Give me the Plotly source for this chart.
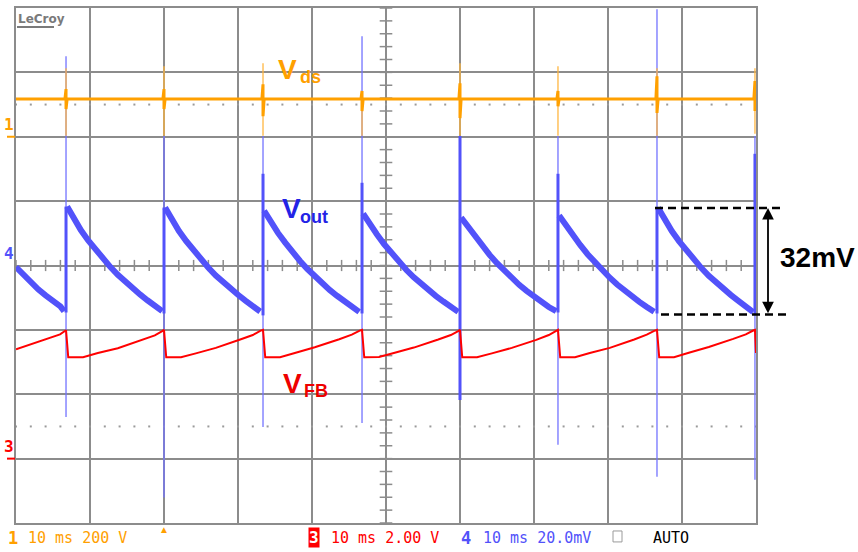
import numpy as np
import plotly.graph_objects as go

# ---------------- data ----------------
# time axis: 10 ms/div, trigger (t=0) on the second switching pulse
pulse_ms = [-13.24, 0.0, 13.38, 26.76, 40.0, 53.24, 66.62, 79.86]

# Channel 4 : Vout (20 mV/div), values in mV relative to screen centre
vout_pre_ms = [-20.0, -19.0, -18.0, -17.0, -16.0, -15.0, -14.0, -13.5]
vout_pre_mV = [-0.5, -3.0, -5.3, -7.4, -9.3, -11.0, -12.7, -14.2]
vout_cycle_offset_ms = [0.15, 1, 2, 3, 4, 5, 6, 7, 8, 9, 10, 11, 12, 13.0]
vout_cycle_mV = [
    [18.3, 14.5, 11.0, 7.8, 4.8, 2.0, -0.5, -2.9, -5.1, -7.2, -9.0, -10.8, -12.5, -14.2],
    [18.0, 14.3, 10.8, 7.6, 4.6, 1.8, -0.7, -3.1, -5.3, -7.3, -9.1, -10.9, -12.6, -14.3],
    [17.0, 13.6, 10.2, 7.1, 4.1, 1.4, -1.1, -3.4, -5.6, -7.6, -9.4, -11.1, -12.8, -14.4],
    [16.1, 13.0, 9.7, 6.6, 3.7, 1.0, -1.4, -3.7, -5.8, -7.7, -9.5, -11.2, -12.9, -14.4],
    [14.9, 12.3, 9.1, 6.1, 3.3, 0.7, -1.7, -3.9, -6.0, -7.9, -9.7, -11.3, -12.9, -14.2],
    [15.5, 12.6, 9.4, 6.4, 3.5, 0.9, -1.5, -3.8, -5.9, -7.8, -9.6, -11.3, -12.9, -14.4],
    [17.9, 14.2, 10.7, 7.5, 4.5, 1.7, -0.8, -3.2, -5.4, -7.4, -9.2, -11.0, -12.7, -14.5],
]
vout_heavy_lo_mV = [-14.6, -14.9, -15.5, -14.9, -41.8, -14.6, -14.9, -15.2]
vout_heavy_hi_mV = [18.3, 18.0, 28.5, 25.7, 40.2, 28.5, 17.9, 34.7]
vout_spike_hi_mV = [65.0, 40.2, 40.2, 71.2, 40.2, 40.2, 79.6, 40.2]
vout_spike_lo_mV = [-47.1, -72.1, -50.2, -48.9, -41.8, -55.7, -65.6, -66.6]

# Channel 1 : Vds (200 V/div), ground 2 div above centre
vds_base_V = 117
vds_thin_hi_V = [213, 219, 228, 142, 228, 219, 213, 213]
vds_thin_lo_V = [3, 3, 3, 3, 3, 3, 3, 9]
vds_thick_hi_V = [148, 148, 163, 142, 166, 142, 188, 173]
vds_thick_lo_V = [86, 86, 64, 80, 58, 95, 74, 80]

# Channel 3 : VFB (2 V/div), ground 3 div below centre
vfb_pre_ms = [-20.0, -16.76, -14.05]
vfb_pre_V = [3.40, 3.65, 3.86]
vfb_peak_V = [3.99, 4.00, 4.00, 4.00, 4.00, 4.00, 4.00, 4.00]
vfb_cycle_offset_ms = [0.3, 2.3, 4.3, 7.0, 10.3, 12.0, 13.0]
vfb_cycle_V = [
    [3.15, 3.15, 3.28, 3.43, 3.68, 3.83, 3.96],
    [3.15, 3.15, 3.27, 3.44, 3.70, 3.84, 3.97],
    [3.15, 3.15, 3.28, 3.46, 3.71, 3.85, 3.97],
    [3.15, 3.16, 3.28, 3.45, 3.70, 3.84, 3.96],
    [3.15, 3.15, 3.27, 3.44, 3.69, 3.84, 3.97],
    [3.15, 3.15, 3.28, 3.44, 3.70, 3.85, 3.97],
    [3.15, 3.15, 3.29, 3.47, 3.72, 3.86, 3.98],
]
vfb_end_ms, vfb_end_V = [80.0], [3.28]

# cursor measurement
measure_mV = [17.9, -15.2]
measure_label = "32mV"

status_texts = ["10 ms 200 V", "10 ms 2.00 V", "10 ms 20.0mV", "AUTO"]

# ---------------- scales ----------------
X_RANGE = [-20, 80]
Y_VOUT = [-80, 80]
Y_VDS = [-1200, 400]
Y_VFB = [-2, 14]

W, H = 858, 552
ML, MR, MT, MB = 16, 102, 6, 29
PW, PH = W - ML - MR, H - MT - MB

ORANGE = "#FFA000"
BLUE = "#5252FA"
RED = "#FF0000"
GRID = "#8c8c8c"


def px2x(px):
    return (px - ML) / PW


def px2y(py):
    return (H - MB - py) / PH


def yfrac(v, rng):
    return (v - rng[0]) / (rng[1] - rng[0])


# ---------------- build traces ----------------
# sawtooth band (noisy part), broken at each pulse
vt, vv = list(vout_pre_ms) + [None], list(vout_pre_mV) + [None]
for i, p in enumerate(pulse_ms[:len(vout_cycle_mV)]):
    vt += [p + o for o in vout_cycle_offset_ms] + [None]
    vv += vout_cycle_mV[i] + [None]

# heavy vertical part at each pulse
ht, hv = [], []
for i, p in enumerate(pulse_ms):
    ht += [p, p, None]
    hv += [vout_heavy_lo_mV[i], vout_heavy_hi_mV[i], None]

# thin ringing spikes
st, sv = [], []
for i, p in enumerate(pulse_ms):
    st += [p, p, None]
    sv += [vout_spike_hi_mV[i], vout_spike_lo_mV[i], None]

dt, dv = [X_RANGE[0]], [vds_base_V]
for i, p in enumerate(pulse_ms):
    dt += [p - 0.15, p, p, p + 0.15]
    dv += [vds_base_V, vds_thick_hi_V[i], vds_thick_lo_V[i], vds_base_V]
dt.append(X_RANGE[1])
dv.append(vds_base_V)

dst, dsv = [], []
for i, p in enumerate(pulse_ms):
    dst += [p, p, None]
    dsv += [vds_thin_hi_V[i], vds_thin_lo_V[i], None]

ft, fv = list(vfb_pre_ms), list(vfb_pre_V)
for i, p in enumerate(pulse_ms):
    ft.append(p)
    fv.append(vfb_peak_V[i])
    if i < len(vfb_cycle_V):
        ft += [p + o for o in vfb_cycle_offset_ms]
        fv += vfb_cycle_V[i]
ft += vfb_end_ms
fv += vfb_end_V

fig = go.Figure()

# graticule decorations
minor_x = np.arange(X_RANGE[0], X_RANGE[1] + 0.01, 2)
minor_y = np.arange(Y_VOUT[0], Y_VOUT[1] + 0.01, 4)
for yy in (50, -50):
    fig.add_trace(go.Scatter(x=minor_x, y=[yy] * len(minor_x), mode="markers",
                             marker=dict(symbol="square", size=2, color="#9a9a9a"),
                             hoverinfo="skip"))
fig.add_trace(go.Scatter(x=minor_x, y=[0] * len(minor_x), mode="markers",
                         marker=dict(symbol="line-ns", size=8, line=dict(width=1.5, color=GRID)),
                         hoverinfo="skip"))
fig.add_trace(go.Scatter(x=[30] * len(minor_y), y=minor_y, mode="markers",
                         marker=dict(symbol="line-ew", size=9, line=dict(width=1.5, color=GRID)),
                         hoverinfo="skip"))

# channel traces
fig.add_trace(go.Scatter(x=st, y=sv, mode="lines", line=dict(color="#7373ff", width=1.3),
                         hoverinfo="skip"))
fig.add_trace(go.Scatter(x=ht, y=hv, mode="lines", line=dict(color=BLUE, width=3),
                         hoverinfo="skip"))
fig.add_trace(go.Scatter(x=vt, y=vv, mode="lines", line=dict(color=BLUE, width=6),
                         connectgaps=False, hoverinfo="skip"))
fig.add_trace(go.Scatter(x=ft, y=fv, mode="lines", line=dict(color=RED, width=2),
                         yaxis="y3", hoverinfo="skip"))
fig.add_trace(go.Scatter(x=dst, y=dsv, mode="lines", line=dict(color="#FFB640", width=1.3),
                         yaxis="y2", hoverinfo="skip"))
fig.add_trace(go.Scatter(x=dt, y=dv, mode="lines", line=dict(color=ORANGE, width=3),
                         yaxis="y2", hoverinfo="skip"))

ann = []
shapes = []

BOLD = "Liberation Sans, Arial, sans-serif"


def label(text, left_px, base_px, size, color):
    ann.append(dict(text="<b>%s</b>" % text, xref="paper", yref="paper",
                    x=px2x(left_px - 1), y=px2y(base_px - 0.3465 * size),
                    xanchor="left", yanchor="middle", showarrow=False,
                    font=dict(family=BOLD, size=size, color=color)))


label("V", 277, 77, 28, ORANGE)
label("ds", 299, 82, 18, ORANGE)
label("V", 281, 217, 28, "#2323E6")
label("out", 299, 222, 18, "#2323E6")
label("V", 282, 393, 28, "#EE0000")
label("FB", 303, 397, 18, "#EE0000")

# cursor measurement: dashed lines, double arrow and label
for v, x0, x1 in ((measure_mV[0], 655, 785), (measure_mV[1], 661, 791)):
    yp = yfrac(v, Y_VOUT)
    shapes.append(dict(type="line", xref="paper", yref="paper", x0=px2x(x0), x1=px2x(x1),
                       y0=yp, y1=yp, line=dict(color="black", width=2.5, dash="8px,5px")))
span_px = (measure_mV[0] - measure_mV[1]) / (Y_VOUT[1] - Y_VOUT[0]) * PH
ann.append(dict(text="", xref="paper", yref="paper", x=px2x(768), y=yfrac(measure_mV[0], Y_VOUT),
                axref="pixel", ayref="pixel", ax=0, ay=span_px, showarrow=True,
                arrowside="end+start", arrowhead=2, arrowsize=1.3, arrowwidth=1.8,
                arrowcolor="black", standoff=0, startstandoff=0))
ann.append(dict(text="<b>%s</b>" % measure_label, xref="paper", yref="paper",
                x=px2x(778), y=px2y(266 - 0.3465 * 28), xanchor="left", yanchor="middle",
                showarrow=False, font=dict(family=BOLD, size=28, color="black")))

# channel ground markers on the left edge
MONO = "DejaVu Sans Mono, Liberation Mono, monospace"
for txt, yp, col, under in (("1", yfrac(0, Y_VDS), ORANGE, True),
                            ("4", yfrac(0, Y_VOUT), BLUE, False),
                            ("3", yfrac(0, Y_VFB), RED, True)):
    ann.append(dict(text="<b>%s</b>" % txt, xref="paper", yref="paper", x=px2x(16), y=yp,
                    xanchor="right", yanchor="bottom", yshift=1, showarrow=False,
                    font=dict(family=MONO, size=16, color=col)))
    if under:
        shapes.append(dict(type="line", xref="paper", yref="paper", x0=px2x(7), x1=px2x(15),
                           y0=yp, y1=yp, line=dict(color=col, width=2)))

# LeCroy logo
ann.append(dict(text="<b>LeCroy</b>", xref="paper", yref="paper", x=px2x(16), y=px2y(8),
                xanchor="left", yanchor="top", showarrow=False,
                font=dict(family="DejaVu Sans, sans-serif", size=12, color="#7a7a7a")))
shapes.append(dict(type="line", xref="paper", yref="paper", x0=px2x(17), x1=px2x(54),
                   y0=px2y(25), y1=px2y(25), line=dict(color="#7a7a7a", width=2)))

# trigger position marker
ann.append(dict(text="▲", xref="x", yref="paper", x=0, y=0, xanchor="center", yanchor="top",
                yshift=3, showarrow=False, font=dict(size=10, color=ORANGE)))

# status line
SY = px2y(538)


def status(text, left_px, color, bold=False, bg=None, size=15):
    d = dict(text=("<b>%s</b>" % text) if bold else text, xref="paper", yref="paper",
             x=px2x(left_px - 1), y=SY, xanchor="left", yanchor="middle", showarrow=False,
             font=dict(family=MONO, size=size, color=color))
    if bg:
        d["bgcolor"] = bg
        d["borderpad"] = 0
    ann.append(d)


status("1", 7, ORANGE, bold=True, size=17)
status(status_texts[0], 27, ORANGE)
status("3", 309, "white", bold=True, bg=RED, size=16)
status(status_texts[1], 330, RED)
status("4", 460, BLUE, bold=True, size=17)
status(status_texts[2], 482, BLUE)
status(status_texts[3], 652, "black")
shapes.append(dict(type="rect", xref="paper", yref="paper", x0=px2x(613), x1=px2x(622),
                   y0=px2y(531), y1=px2y(542), line=dict(color="#9a9a9a", width=1)))

fig.update_layout(
    width=W, height=H,
    margin=dict(l=ML, r=MR, t=MT, b=MB, pad=0),
    paper_bgcolor="white", plot_bgcolor="white",
    showlegend=False,
    xaxis=dict(range=X_RANGE, dtick=10, showgrid=True, gridcolor=GRID, gridwidth=1.6,
               zeroline=False, showticklabels=False, ticks="", showline=True, mirror=True,
               linecolor=GRID, linewidth=2),
    yaxis=dict(range=Y_VOUT, dtick=20, showgrid=True, gridcolor=GRID, gridwidth=1.6,
               zeroline=False, showticklabels=False, ticks="", showline=True, mirror=True,
               linecolor=GRID, linewidth=2),
    yaxis2=dict(range=Y_VDS, overlaying="y", visible=False),
    yaxis3=dict(range=Y_VFB, overlaying="y", visible=False),
    annotations=ann,
    shapes=shapes,
)

fig.write_html("out.html", config={"displayModeBar": False},
               post_script="document.body.style.margin='0';document.body.style.overflow='hidden';")
